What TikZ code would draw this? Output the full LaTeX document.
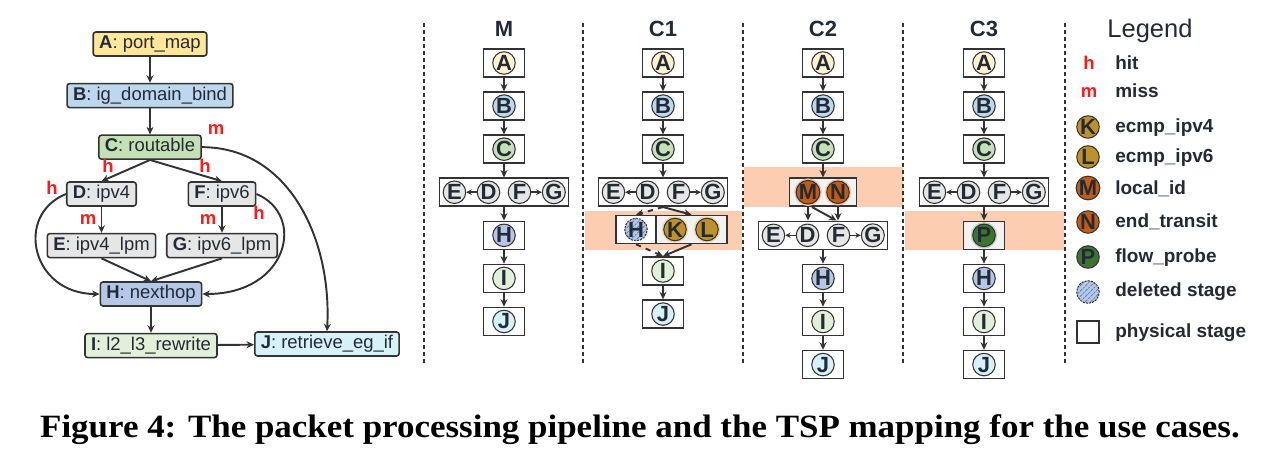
\documentclass[tikz,border=0pt]{standalone}
\usepackage{fontspec}
\setmainfont{Liberation Sans}
\newfontfamily\capfont{Liberation Serif}
\usepackage{tikz}
\usetikzlibrary{positioning}
\usetikzlibrary{calc}
\usetikzlibrary{arrows.meta}
\usetikzlibrary{patterns}

\definecolor{ln}{HTML}{333333}
\definecolor{tx}{HTML}{222A35}
\definecolor{hitred}{HTML}{FF1A1A}
\definecolor{band}{HTML}{FCCDB0}
\definecolor{bxgrey}{HTML}{F2F2F2}
\definecolor{cA}{HTML}{FFE699}
\definecolor{cAs}{HTML}{FFF2CC}
\definecolor{cB}{HTML}{BDD7EE}
\definecolor{cC}{HTML}{C5E0B4}
\definecolor{cD}{HTML}{E7E6E6}
\definecolor{cH}{HTML}{B4C7E7}
\definecolor{cI}{HTML}{E2F0D9}
\definecolor{cJ}{HTML}{D6F1F8}
\definecolor{cK}{HTML}{C0902A}
\definecolor{cM}{HTML}{C55A11}
\definecolor{cP}{HTML}{3D7530}
\definecolor{hatch}{HTML}{5F7FAF}

\tikzset{
  fn/.style={draw=ln, line width=0.9pt, rounded corners=1.5pt, minimum height=4.8mm, inner xsep=1.2mm, inner ysep=0pt,
    text height=2.7mm, text depth=0.8mm, text=tx, font=\fontsize{10.5}{12}\selectfont},
  hm/.style={text=hitred, inner sep=0pt, font=\bfseries\fontsize{10.5}{12}\selectfont},
  arr/.style={draw=ln, line width=1.1pt, -{Stealth[length=1.5mm, width=1.4mm]}},
  sarr/.style={draw=ln, line width=0.9pt, -{Stealth[length=1.1mm, width=1.1mm]}},
  stg/.style={draw=ln, line width=0.9pt, fill=white, minimum width=8.2mm, minimum height=5.6mm, inner sep=0pt},
  stgrow/.style={stg, minimum width=25.8mm},
  tbl/.style={circle, draw=ln, line width=0.6pt, minimum size=4.5mm, inner sep=0pt, text=tx,
    font=\bfseries\fontsize{12.5}{12}\selectfont},
  hot/.style={tbl, fill=#1, preaction={draw=#1!35, line width=2.2pt}},
  gone/.style={tbl, fill=cH, dash pattern=on 1.2pt off 0.6pt, postaction={pattern=north east lines, pattern color=hatch}},
  coltitle/.style={anchor=base, text=tx, font=\bfseries\fontsize{12.5}{14}\selectfont},
  lgtxt/.style={anchor=base west, inner sep=0pt, text=tx, font=\bfseries\fontsize{10.8}{12}\selectfont},
  colsep/.style={draw=ln, line width=0.9pt, dash pattern=on 0.8mm off 0.6mm},
}

\begin{document}
\begin{tikzpicture}[x=0.2mm, y=-0.2mm]
\useasboundingbox (0,0) rectangle (1284,454);

% bands of the new stages
\fill[band] (585,211) rectangle (742,250);
\fill[band] (744,167) rectangle (903,207);
\fill[band] (905,211) rectangle (1064,250);

% pipeline
\node[fn, fill=cA] (pA) at (150,44) {\textbf{A}: port\_map};
\node[fn, fill=cB, below=5.2mm of pA] (pB) {\textbf{B}: ig\_domain\_bind};
\node[fn, fill=cC, below=5.2mm of pB] (pC) {\textbf{C}: routable};
\node[fn, fill=cD] (pD) at (101.5,194) {\textbf{D}: ipv4};
\node[fn, fill=cD] (pF) at (222,194) {\textbf{F}: ipv6};
\node[fn, fill=cD, below=5.2mm of pD] (pE) {\textbf{E}: ipv4\_lpm};
\node[fn, fill=cD, below=5.2mm of pF] (pG) {\textbf{G}: ipv6\_lpm};
\node[fn, fill=cH] (pH) at (151,294) {\textbf{H}: nexthop};
\node[fn, fill=cI, below=5.2mm of pH] (pI) {\textbf{I}: l2\_l3\_rewrite};
\node[fn, fill=cJ] (pJ) at (327,344) {\textbf{J}: retrieve\_eg\_if};

\draw[arr] (pA) -- (pB);
\draw[arr] (pB) -- (pC);
\draw[arr] (pC.south) -- (pD.north);
\draw[arr] (pC.south) -- (pF.north);
\draw[arr] (pC.east) .. controls ($(pC.east)+(87,0)$) and ($(pJ.north)+(5,-92)$) .. (pJ.north);
\draw[arr] (pD.west) .. controls ($(pD.west)+(-52,21)$) and ($(pH.west)+(-68,0)$) .. (pH.west);
\draw[arr] (pF.east) .. controls ($(pF.east)+(50,21)$) and ($(pH.east)+(86,0)$) .. (pH.east);
\draw[arr] (pD) -- (pE);
\draw[arr] (pF) -- (pG);
\draw[arr] (pE.south) -- (pH.north);
\draw[arr] (pG.south) -- (pH.north);
\draw[arr] (pH) -- (pI);
\draw[arr] (pI) -- (pJ);

\node[hm] (lbm1) at (216,130) {m};
\node[hm] (lbh1) at (108,166) {h};
\node[hm] (lbh2) at (205,166) {h};
\node[hm] (lbh3) at (52,188) {h};
\node[hm] (lbm2) at (88,220) {m};
\node[hm] (lbm3) at (208,220) {m};
\node[hm] (lbh4) at (259,213) {h};

% column separators
\draw[colsep] (424,23) -- (424,363);
\draw[colsep] (583,23) -- (583,363);
\draw[colsep] (743,23) -- (743,363);
\draw[colsep] (903,23) -- (903,363);
\draw[colsep] (1065,23) -- (1065,363);

% column M
\node[coltitle] (tM) at (504,37) {M};
\node[stg] (mA) at (504,63) {};
\node[tbl, fill=cAs] (mAo) at (mA) {A};
\node[stg, below=2.7mm of mA] (mB) {};
\node[tbl, fill=cB] (mBo) at (mB) {B};
\node[stg, below=2.7mm of mB] (mC) {};
\node[tbl, fill=cC] (mCo) at (mC) {C};
\node[stgrow, below=2.7mm of mC] (mrow) {};
\node[tbl, fill=cD] (mD) at ([xshift=-3.1mm]mrow.center) {D};
\node[tbl, fill=cD, left=2.1mm of mD] (mE) {E};
\node[tbl, fill=cD] (mF) at ([xshift=3.1mm]mrow.center) {F};
\node[tbl, fill=cD, right=2.1mm of mF] (mG) {G};
\node[stg, below=2.7mm of mrow] (mH) {};
\node[tbl, fill=cH] (mHo) at (mH) {H};
\node[stg, below=2.7mm of mH] (mI) {};
\node[tbl, fill=cI] (mIo) at (mI) {I};
\node[stg, below=2.7mm of mI] (mJ) {};
\node[tbl, fill=cJ] (mJo) at (mJ) {J};
\draw[arr] (mA) -- (mB);
\draw[arr] (mB) -- (mC);
\draw[arr] (mC) -- (mrow);
\draw[sarr] (mD) -- (mE);
\draw[sarr] (mF) -- (mG);
\draw[arr] (mrow) -- (mH);
\draw[arr] (mH) -- (mI);
\draw[arr] (mI) -- (mJ);

% column C1
\node[coltitle] (tC1) at (663,37) {C1};
\node[stg] (c1A) at (663,63) {};
\node[tbl, fill=cAs] (c1Ao) at (c1A) {A};
\node[stg, below=2.7mm of c1A] (c1B) {};
\node[tbl, fill=cB] (c1Bo) at (c1B) {B};
\node[stg, below=2.7mm of c1B] (c1C) {};
\node[tbl, fill=cC] (c1Co) at (c1C) {C};
\node[stgrow, below=2.7mm of c1C] (c1row) {};
\node[tbl, fill=cD] (c1D) at ([xshift=-3.1mm]c1row.center) {D};
\node[tbl, fill=cD, left=2.1mm of c1D] (c1E) {E};
\node[tbl, fill=cD] (c1F) at ([xshift=3.1mm]c1row.center) {F};
\node[tbl, fill=cD, right=2.1mm of c1F] (c1G) {G};
\node[stg, minimum width=8mm] (c1H) at (636,229.5) {};
\node[gone] (c1Ho) at (c1H) {H};
\node[stg, fill=bxgrey, minimum width=14.2mm] (c1KL) at (691.5,229.5) {};
\node[hot=cK] (c1K) at ([xshift=-3.3mm]c1KL.center) {K};
\node[hot=cK] (c1L) at ([xshift=3.1mm]c1KL.center) {L};
\node[stg] (c1I) at (663,271) {};
\node[tbl, fill=cI] (c1Io) at (c1I) {I};
\node[stg, below=2.7mm of c1I] (c1J) {};
\node[tbl, fill=cJ] (c1Jo) at (c1J) {J};
\draw[arr] (c1A) -- (c1B);
\draw[arr] (c1B) -- (c1C);
\draw[arr] (c1C) -- (c1row);
\draw[sarr] (c1D) -- (c1E);
\draw[sarr] (c1F) -- (c1G);
\draw[arr, dashed] (c1row.south) -- (c1H.north);
\draw[arr] (c1row.south) -- (c1KL.north);
\draw[arr, dashed] (c1H.south) -- (c1I.north);
\draw[arr] (c1KL.south) -- (c1I.north);
\draw[arr] (c1I) -- (c1J);

% column C2
\node[coltitle] (tC2) at (823,37) {C2};
\node[stg] (c2A) at (823,63) {};
\node[tbl, fill=cAs] (c2Ao) at (c2A) {A};
\node[stg, below=2.7mm of c2A] (c2B) {};
\node[tbl, fill=cB] (c2Bo) at (c2B) {B};
\node[stg, below=2.7mm of c2B] (c2C) {};
\node[tbl, fill=cC] (c2Co) at (c2C) {C};
\node[stg, fill=bxgrey, minimum width=13.4mm, below=2.7mm of c2C] (c2mn) {};
\node[hot=cM] (c2M) at ([xshift=-3mm]c2mn.center) {M};
\node[hot=cM] (c2N) at ([xshift=3mm]c2mn.center) {N};
\node[stgrow, below=2.7mm of c2mn] (c2row) {};
\node[tbl, fill=cD] (c2D) at ([xshift=-3.1mm]c2row.center) {D};
\node[tbl, fill=cD, left=2.1mm of c2D] (c2E) {E};
\node[tbl, fill=cD] (c2F) at ([xshift=3.1mm]c2row.center) {F};
\node[tbl, fill=cD, right=2.1mm of c2F] (c2G) {G};
\node[stg, below=2.7mm of c2row] (c2H) {};
\node[tbl, fill=cH] (c2Ho) at (c2H) {H};
\node[stg, below=2.7mm of c2H] (c2I) {};
\node[tbl, fill=cI] (c2Io) at (c2I) {I};
\node[stg, below=2.7mm of c2I] (c2J) {};
\node[tbl, fill=cJ] (c2Jo) at (c2J) {J};
\draw[arr] (c2A) -- (c2B);
\draw[arr] (c2B) -- (c2C);
\draw[arr] (c2C) -- (c2mn);
\draw[arr] (c2M |- c2mn.south) -- (c2M |- c2row.north);
\draw[arr] (c2N |- c2mn.south) -- (c2N |- c2row.north);
\draw[arr] ($(c2M |- c2mn.south)+(4,0)$) -- ($(c2F |- c2row.north)+(-2,0)$);
\draw[sarr] (c2D) -- (c2E);
\draw[sarr] (c2F) -- (c2G);
\draw[arr] (c2row) -- (c2H);
\draw[arr] (c2H) -- (c2I);
\draw[arr] (c2I) -- (c2J);

% column C3
\node[coltitle] (tC3) at (984,37) {C3};
\node[stg] (c3A) at (984,63) {};
\node[tbl, fill=cAs] (c3Ao) at (c3A) {A};
\node[stg, below=2.7mm of c3A] (c3B) {};
\node[tbl, fill=cB] (c3Bo) at (c3B) {B};
\node[stg, below=2.7mm of c3B] (c3C) {};
\node[tbl, fill=cC] (c3Co) at (c3C) {C};
\node[stgrow, below=2.7mm of c3C] (c3row) {};
\node[tbl, fill=cD] (c3D) at ([xshift=-3.1mm]c3row.center) {D};
\node[tbl, fill=cD, left=2.1mm of c3D] (c3E) {E};
\node[tbl, fill=cD] (c3F) at ([xshift=3.1mm]c3row.center) {F};
\node[tbl, fill=cD, right=2.1mm of c3F] (c3G) {G};
\node[stg, fill=bxgrey, below=2.7mm of c3row] (c3P) {};
\node[hot=cP] (c3Po) at (c3P) {P};
\node[stg, below=2.7mm of c3P] (c3H) {};
\node[tbl, fill=cH] (c3Ho) at (c3H) {H};
\node[stg, below=2.7mm of c3H] (c3I) {};
\node[tbl, fill=cI] (c3Io) at (c3I) {I};
\node[stg, below=2.7mm of c3I] (c3J) {};
\node[tbl, fill=cJ] (c3Jo) at (c3J) {J};
\draw[arr] (c3A) -- (c3B);
\draw[arr] (c3B) -- (c3C);
\draw[arr] (c3C) -- (c3row);
\draw[sarr] (c3D) -- (c3E);
\draw[sarr] (c3F) -- (c3G);
\draw[arr] (c3row) -- (c3P);
\draw[arr] (c3P) -- (c3H);
\draw[arr] (c3H) -- (c3I);
\draw[arr] (c3I) -- (c3J);

% legend
\node[anchor=base, text=tx, font=\fontsize{14.5}{16}\selectfont] (lgd) at (1150,38) {Legend};
\node[hm, anchor=base] (lgh) at (1089,70) {h};
\node[lgtxt] (lghit) at (1115,70) {hit};
\node[hm, anchor=base] (lgm) at (1089,98) {m};
\node[lgtxt] (lgmiss) at (1115,98) {miss};
\node[tbl, fill=cK] (lgK) at (1088,127) {K};
\node[lgtxt] (lgKt) at (1115,133) {ecmp\_ipv4};
\node[tbl, fill=cK] (lgL) at (1088,157) {L};
\node[lgtxt] (lgLt) at (1115,163) {ecmp\_ipv6};
\node[tbl, fill=cM] (lgM) at (1088,188) {M};
\node[lgtxt] (lgMt) at (1115,195) {local\_id};
\node[tbl, fill=cM] (lgN) at (1088,222) {N};
\node[lgtxt] (lgNt) at (1115,228) {end\_transit};
\node[tbl, fill=cP] (lgP) at (1088,257) {P};
\node[lgtxt] (lgPt) at (1115,263) {flow\_probe};
\node[gone] (lgdel) at (1088,292) {};
\node[lgtxt] (lgdelt) at (1115,297) {deleted stage};
\node[draw=ln, line width=0.7pt, minimum size=4.4mm, inner sep=0pt] (lgbox) at (1088,332) {};
\node[lgtxt] (lgboxt) at (1115,338) {physical stage};

% caption
\node[font=\capfont\bfseries\fontsize{18.5}{20}\selectfont, text=black] (cap) at (640,430)
  {\scalebox{1.075}[1]{Figure 4: The packet processing pipeline and the TSP mapping for the use cases.}};
\end{tikzpicture}
\end{document}
